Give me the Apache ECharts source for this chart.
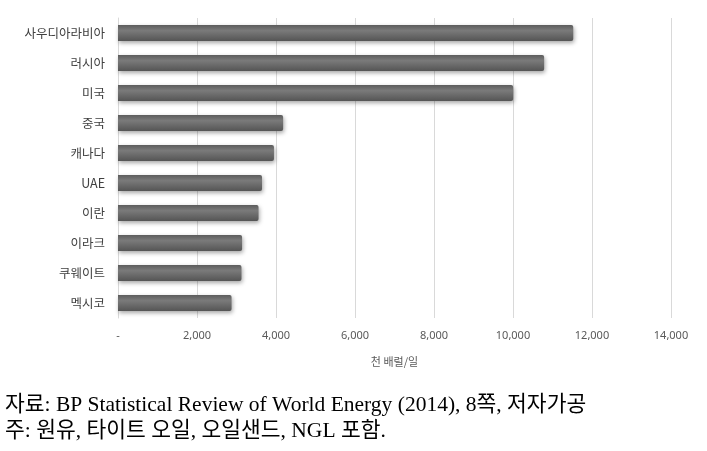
<!DOCTYPE html>
<html>
<head>
<meta charset="utf-8">
<script src="https://cdn.jsdelivr.net/npm/echarts@6/dist/echarts.min.js"></script>
<style>
  html, body { margin: 0; padding: 0; background: #fff; }
  #chart { width: 707px; height: 451px; }
</style>
</head>
<body>
<div id="chart"></div>
<script>
// 2013 oil production, thousand barrels/day
const countries = ['사우디아라비아', '러시아', '미국', '중국', '캐나다', 'UAE', '이란', '이라크', '쿠웨이트', '멕시코']
const production = [11525, 10788, 10003, 4180, 3948, 3646, 3558, 3141, 3126, 2875]
const sourceNote = '자료: BP Statistical Review of World Energy (2014), 8쪽, 저자가공'
const scopeNote = '주: 원유, 타이트 오일, 오일샌드, NGL 포함.'

const chart = echarts.init(document.getElementById('chart'))

chart.setOption({
  animation: false,
  grid: { left: 118, right: 36, top: 18, bottom: 133 },
  xAxis: {
    type: 'value',
    min: 0,
    max: 14000,
    interval: 2000,
    name: '천 배럴/일',
    nameLocation: 'middle',
    nameGap: 38,
    nameTextStyle: { fontFamily: 'Noto Sans CJK KR', fontSize: 11, color: '#595959' },
    axisLine: { show: false },
    axisTick: { show: false },
    axisLabel: {
      margin: 12,
      fontFamily: 'Noto Sans', fontSize: 11, color: '#595959',
      formatter: v => (v === 0 ? '-' : v.toLocaleString('en-US')),
    },
    splitLine: { lineStyle: { color: '#d9d9d9', width: 1 } },
  },
  yAxis: {
    type: 'category',
    data: countries,
    inverse: true,
    axisLine: { show: true, lineStyle: { color: '#d9d9d9' } },
    axisTick: { show: false },
    axisLabel: { margin: 13, fontFamily: 'Noto Sans CJK KR', fontSize: 12.5, color: '#404040' },
  },
  series: [{
    type: 'bar',
    data: production,
    barWidth: 16,
    itemStyle: {
      borderRadius: [0, 2, 2, 0],
      color: new echarts.graphic.LinearGradient(0, 0, 0, 1, [
        { offset: 0, color: '#5c5c5c' },
        { offset: 0.35, color: '#7a7a7a' },
        { offset: 1, color: '#555555' },
      ]),
      shadowBlur: 4,
      shadowColor: 'rgba(0,0,0,0.35)',
      shadowOffsetX: 1,
      shadowOffsetY: 2,
    },
  }],
  graphic: [
    {
      type: 'text', left: 5, top: 395,
      style: { text: sourceNote, font: '21.5px "Liberation Serif", "Noto Sans CJK KR"', fill: '#000' },
    },
    {
      type: 'text', left: 5, top: 421,
      style: { text: scopeNote, font: '21.5px "Liberation Serif", "Noto Sans CJK KR"', fill: '#000' },
    },
  ],
})
</script>
</body>
</html>
